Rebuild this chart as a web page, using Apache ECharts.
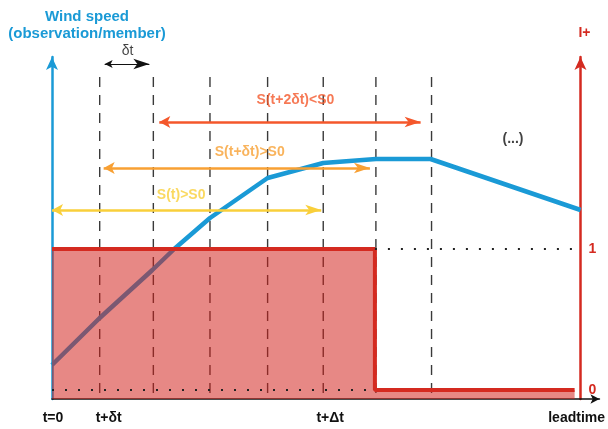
<!DOCTYPE html>
<html><head><meta charset="utf-8">
<script src="https://cdn.jsdelivr.net/npm/echarts@6/dist/echarts.min.js"></script>
<style>html,body{margin:0;padding:0;background:#fff}#c{width:608px;height:429px}</style>
</head><body><div id="c"></div>
<script>
// x in time units (lead time), left y = wind speed (arbitrary units), right y = I+ (0/1)
const windX = [0, 48, 101, 123, 159, 217, 273, 326, 381, 532];
const windY = [34, 81, 129, 150, 181, 221, 236, 240, 240, 189];
const stepX = [0, 325, 325, 526];
const stepY = [1, 1, 0, 0];
const timeSteps = [48, 102, 159, 217, 273, 326, 382];
const dashTop = 322;
const dotLevel1 = [[325, 1], [532, 1]];
const dotLevel0 = [[0, 0], [325, 0]];
const arrowNames = ['S(t)>S0', 'S(t+δt)>S0', 'S(t+2δt)<S0', 'δt'];
const arrowStart = [0, 52, 108, 53];
const arrowEnd = [271, 320, 371, 98];
const arrowLevel = [189, 231, 277, 335];
const arrowColors = ['#f9cf3a', '#f8a033', '#f4572b', '#111111'];
const labelX = [130, 199, 245, 76];
const labelY = [204, 247, 299, 348];
const noteText = ['(...)'];
const noteX = [464];
const noteY = [260];
const tickValues = [1, 57, 280, 528];
const tickLabels = ['t=0', 't+δt', 't+Δt', 'leadtime'];
const iTicks = [0, 1];

const FONT = 'Liberation Sans, Arial, sans-serif';
const BLUE = '#1a9ad6';
const RED = '#d42a20';

const series = [];
timeSteps.forEach(function (x) {
  series.push({
    type: 'line', xAxisIndex: 0, yAxisIndex: 0, z: 1, silent: true,
    data: [[x, dashTop], [x, 0]], symbol: 'none',
    lineStyle: { color: '#3a3a3a', width: 1.4, type: [10, 8] }
  });
});
series.push({
  type: 'line', yAxisIndex: 0, z: 2, symbol: 'none', silent: true,
  data: windX.map(function (x, i) { return [x, windY[i]]; }),
  lineStyle: { color: BLUE, width: 4.5, join: 'round' }
});
series.push({
  type: 'line', yAxisIndex: 1, z: 3, symbol: 'none', silent: true,
  data: stepX.map(function (x, i) { return [x, stepY[i]]; }),
  lineStyle: { color: RED, width: 4 },
  areaStyle: { color: 'rgba(210,30,25,0.53)', opacity: 1, origin: 'start' }
});
[dotLevel1, dotLevel0].forEach(function (d) {
  series.push({
    type: 'line', yAxisIndex: 1, z: 4, symbol: 'none', silent: true,
    data: d, lineStyle: { color: '#222', width: 2, type: [2, 11] }
  });
});
series.push({
  type: 'line', yAxisIndex: 0, z: 5, data: [], silent: true,
  markLine: {
    silent: true, z: 5,
    symbol: ['arrow', 'arrow'],
    label: { show: false },
    data: arrowNames.map(function (n, i) {
      const small = i === 3;
      return [
        { coord: [arrowStart[i], arrowLevel[i]], symbolSize: small ? [6, 8] : [9, 11],
          lineStyle: { color: arrowColors[i], width: small ? 1.2 : 2.5, type: 'solid' } },
        { coord: [arrowEnd[i], arrowLevel[i]] }
      ];
    })
  }
});
series.push({
  type: 'scatter', yAxisIndex: 0, z: 6, symbolSize: 0, clip: false, silent: true,
  data: arrowNames.map(function (n, i) { return { value: [labelX[i], labelY[i]], name: n, itemStyle: { color: arrowColors[i] } }; })
    .concat(noteText.map(function (n, i) { return { value: [noteX[i], noteY[i]], name: n, itemStyle: { color: '#111' } }; })),
  label: {
    show: true, position: 'inside', formatter: '{b}',
    fontFamily: FONT, fontSize: 14, fontWeight: 'bold'
  }
});
series[series.length - 1].data.forEach(function (d) {
  const isDelta = d.name === 'δt';
  d.label = { color: d.itemStyle.color, fontWeight: isDelta ? 'normal' : 'bold' };
});

const chart = echarts.init(document.getElementById('c'), null, { renderer: 'canvas' });
chart.setOption({
  animation: false,
  backgroundColor: '#fff',
  title: {
    text: 'Wind speed\n(observation/member)',
    left: 87, top: 8, padding: 0, textAlign: 'center',
    textStyle: { fontFamily: FONT, fontSize: 15, fontWeight: 'bold', color: BLUE, lineHeight: 17 }
  },
  grid: { left: 52, right: 5, top: 57, bottom: 30, containLabel: false },
  xAxis: {
    type: 'value', min: 0, max: 551,
    splitLine: { show: false },
    axisTick: { show: false },
    axisLine: { show: true, onZero: false, symbol: ['none', 'arrow'], symbolSize: [7, 9],
      lineStyle: { color: '#111', width: 1.5 } },
    axisLabel: {
      customValues: tickValues, margin: 12,
      formatter: function (v) { const i = tickValues.indexOf(v); return i >= 0 ? tickLabels[i] : ''; },
      fontFamily: FONT, fontSize: 14, fontWeight: 'bold', color: '#111'
    }
  },
  yAxis: [{
    type: 'value', min: 0, max: 342, position: 'left',
    splitLine: { show: false }, axisTick: { show: false }, axisLabel: { show: false },
    axisLine: { show: true, onZero: false, symbol: ['none', 'arrow'], symbolSize: [9, 13],
      lineStyle: { color: BLUE, width: 2.5 } }
  }, {
    type: 'value', min: -9 / 141, max: 333 / 141, position: 'right', offset: -19,
    splitLine: { show: false }, axisTick: { show: false },
    name: 'I+', nameLocation: 'end', nameGap: 17,
    nameTextStyle: { fontFamily: FONT, fontSize: 14, fontWeight: 'bold', color: RED, padding: [0, 0, 0, 8] },
    axisLine: { show: true, onZero: false, symbol: ['none', 'arrow'], symbolSize: [9, 13],
      lineStyle: { color: RED, width: 2.5 } },
    axisLabel: {
      customValues: iTicks, margin: 8,
      fontFamily: FONT, fontSize: 14, fontWeight: 'bold', color: RED
    }
  }],
  series: series
});
</script></body></html>
